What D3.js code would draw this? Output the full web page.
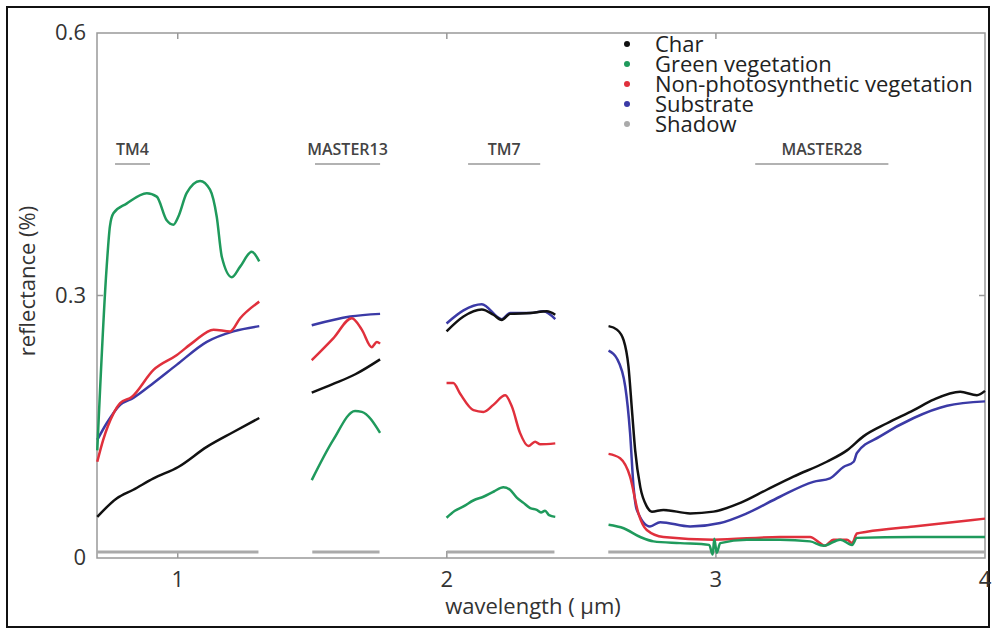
<!DOCTYPE html>
<html>
<head>
<meta charset="utf-8">
<script src="https://cdn.jsdelivr.net/npm/d3@7"></script>
<style>
  body { margin: 0; background: #fff; }
  text { font-family: "Open Sans", "Noto Sans", sans-serif; }
</style>
</head>
<body>
<svg id="chart" width="993" height="632"></svg>
<script>
// band windows (wavelength um) and the spectral bands marked above them
var segStart = [0.70, 1.50, 2.00, 2.60]
var segEnd = [1.30, 1.75, 2.40, 4.00]
var bandNames = ["TM4", "MASTER13", "TM7", "MASTER28"]
var bandFrom = [0.767, 1.510, 2.079, 3.146]
var bandTo = [0.897, 1.752, 2.347, 3.641]
var shadowValue = 0.007

var seriesNames = ["Char", "Green vegetation", "Non-photosynthetic vegetation", "Substrate", "Shadow"]
var seriesColors = ["#111111", "#1f9a5c", "#e0303c", "#3b3aa6", "#aaaaaa"]

var xTicks = [1, 2, 3, 4]
var yTicks = [0, 0.3, 0.6]
var yTickLabels = ["0", "0.3", "0.6"]

// char
var charTM4 = [[0.701,0.047],[0.773,0.068],[0.835,0.078],[0.910,0.091],[1.002,0.104],[1.108,0.127],[1.207,0.144],[1.303,0.160]]
var charM13 = [[1.498,0.189],[1.578,0.199],[1.660,0.210],[1.752,0.227]]
var charTM7 = [[1.999,0.259],[2.062,0.276],[2.130,0.284],[2.173,0.278],[2.204,0.272],[2.235,0.279],[2.310,0.280],[2.372,0.282],[2.403,0.278]]
var charM28 = [[2.601,0.265],[2.632,0.261],[2.657,0.249],[2.675,0.219],[2.688,0.169],[2.700,0.123],[2.719,0.081],[2.743,0.059],[2.762,0.053],[2.805,0.055],[2.904,0.051],[2.991,0.053],[3.091,0.063],[3.189,0.078],[3.288,0.093],[3.412,0.110],[3.487,0.123],[3.548,0.139],[3.636,0.154],[3.735,0.169],[3.809,0.181],[3.908,0.190],[3.970,0.186],[4.000,0.191]]

// green vegetation
var greenTM4 = [[0.701,0.123],[0.736,0.333],[0.748,0.379],[0.761,0.394],[0.810,0.405],[0.885,0.417],[0.922,0.413],[0.959,0.386],[0.984,0.381],[1.002,0.390],[1.033,0.417],[1.083,0.431],[1.120,0.421],[1.145,0.390],[1.164,0.344],[1.201,0.321],[1.232,0.333],[1.275,0.350],[1.303,0.339]]
var greenM13 = [[1.498,0.089],[1.578,0.135],[1.659,0.168],[1.684,0.167],[1.752,0.143]]
var greenTM7 = [[1.999,0.046],[2.030,0.054],[2.062,0.059],[2.100,0.066],[2.136,0.070],[2.175,0.076],[2.210,0.081],[2.235,0.078],[2.260,0.069],[2.285,0.063],[2.310,0.057],[2.334,0.055],[2.350,0.052],[2.365,0.054],[2.380,0.049],[2.403,0.047]]
var greenM28 = [[2.601,0.038],[2.657,0.034],[2.719,0.024],[2.768,0.019],[2.867,0.017],[2.975,0.015],[2.988,0.004],[2.994,0.022],[3.003,0.006],[3.016,0.017],[3.115,0.021],[3.238,0.021],[3.350,0.019],[3.400,0.014],[3.462,0.021],[3.506,0.015],[3.524,0.023],[3.735,0.024],[4.000,0.024]]

// non-photosynthetic vegetation
var npvTM4 = [[0.701,0.110],[0.723,0.135],[0.761,0.165],[0.786,0.177],[0.829,0.184],[0.910,0.215],[0.997,0.232],[1.059,0.247],[1.133,0.261],[1.195,0.259],[1.232,0.274],[1.303,0.293]]
var npvM13 = [[1.498,0.226],[1.578,0.251],[1.647,0.274],[1.684,0.261],[1.721,0.241],[1.740,0.247],[1.752,0.245]]
var npvTM7 = [[1.999,0.200],[2.024,0.200],[2.049,0.188],[2.099,0.169],[2.136,0.167],[2.173,0.175],[2.217,0.186],[2.242,0.173],[2.272,0.143],[2.303,0.128],[2.328,0.133],[2.347,0.130],[2.403,0.131]]
var npvM28 = [[2.601,0.119],[2.644,0.114],[2.681,0.093],[2.712,0.051],[2.743,0.032],[2.805,0.024],[2.991,0.021],[3.238,0.024],[3.350,0.024],[3.387,0.017],[3.405,0.014],[3.437,0.021],[3.487,0.021],[3.506,0.017],[3.524,0.028],[3.561,0.030],[3.735,0.036],[4.000,0.045]]

// substrate
var subTM4 = [[0.701,0.135],[0.736,0.154],[0.786,0.175],[0.835,0.183],[0.910,0.200],[0.997,0.221],[1.108,0.247],[1.207,0.259],[1.303,0.265]]
var subM13 = [[1.498,0.266],[1.641,0.276],[1.752,0.279]]
var subTM7 = [[1.999,0.268],[2.062,0.283],[2.130,0.290],[2.204,0.273],[2.235,0.280],[2.310,0.280],[2.359,0.282],[2.403,0.273]]
var subM28 = [[2.601,0.237],[2.632,0.228],[2.663,0.196],[2.681,0.143],[2.694,0.081],[2.706,0.055],[2.755,0.036],[2.793,0.041],[2.904,0.036],[3.016,0.040],[3.115,0.051],[3.238,0.070],[3.362,0.087],[3.424,0.091],[3.474,0.104],[3.512,0.110],[3.524,0.120],[3.610,0.139],[3.735,0.160],[3.859,0.174],[4.000,0.179]]

var seriesData = [
  [charTM4, charM13, charTM7, charM28],
  [greenTM4, greenM13, greenTM7, greenM28],
  [npvTM4, npvM13, npvTM7, npvM28],
  [subTM4, subM13, subTM7, subM28]
]

drawChart = function() {
  var svg = d3.select("#chart")
  var pL = 97, pR = 985, pT = 33, pB = 558

  var x = d3.scaleLinear().domain([0.7, 4]).range([pL, pR])
  var y = d3.scaleLinear().domain([0, 0.6]).range([pB, pT])

  // outer frame
  svg.append("rect")
    .attr("x", 7).attr("y", 7).attr("width", 982).attr("height", 620)
    .attr("fill", "none").attr("stroke", "#111").attr("stroke-width", 2)

  // plot box
  svg.append("rect")
    .attr("x", pL).attr("y", pT).attr("width", pR - pL).attr("height", pB - pT)
    .attr("fill", "none").attr("stroke", "#999").attr("stroke-width", 1.5)

  // x ticks, bottom and top, pointing inward
  xTicks.slice(0, 3).forEach(function(t) {
    svg.append("line").attr("x1", x(t)).attr("x2", x(t)).attr("y1", pB).attr("y2", pB - 7)
      .attr("stroke", "#999").attr("stroke-width", 1.5)
    svg.append("line").attr("x1", x(t)).attr("x2", x(t)).attr("y1", pT).attr("y2", pT + 6)
      .attr("stroke", "#999").attr("stroke-width", 1.5)
  })
  svg.append("line").attr("x1", pL).attr("x2", pL + 6).attr("y1", y(0.3)).attr("y2", y(0.3))
    .attr("stroke", "#999").attr("stroke-width", 1.5)
  svg.append("line").attr("x1", pR).attr("x2", pR - 6).attr("y1", y(0.3)).attr("y2", y(0.3))
    .attr("stroke", "#999").attr("stroke-width", 1.5)

  // tick labels
  svg.selectAll(".xt").data(xTicks).enter().append("text")
    .attr("x", function(d) { return x(d) }).attr("y", pB + 29)
    .attr("text-anchor", "middle").attr("fill", "#333").style("font-size", "22px")
    .text(function(d) { return d })
  svg.selectAll(".yt").data(yTicks).enter().append("text")
    .attr("x", 86).attr("y", function(d) { return y(d) + 7 })
    .attr("text-anchor", "end").attr("fill", "#333").style("font-size", "22px")
    .text(function(d, i) { return yTickLabels[i] })

  // axis titles
  svg.append("text").attr("x", 533).attr("y", 614).attr("text-anchor", "middle")
    .attr("fill", "#333").style("font-size", "22px").text("wavelength ( \u00b5m)")
  svg.append("text").attr("transform", "translate(35,281) rotate(-90)")
    .attr("text-anchor", "middle").attr("fill", "#333").style("font-size", "22px").text("reflectance (%)")

  // band labels with underline
  bandNames.forEach(function(b, i) {
    var cx = (x(bandFrom[i]) + x(bandTo[i])) / 2
    svg.append("text").attr("x", cx).attr("y", 155).attr("text-anchor", "middle")
      .attr("fill", "#444").style("font-size", "16px").style("font-weight", "600").text(b)
    svg.append("line").attr("x1", x(bandFrom[i])).attr("x2", x(bandTo[i])).attr("y1", 164).attr("y2", 164)
      .attr("stroke", "#999").attr("stroke-width", 1.5)
  })

  // shadow lines
  segStart.forEach(function(s, i) {
    svg.append("line").attr("x1", x(s)).attr("x2", x(segEnd[i]))
      .attr("y1", y(shadowValue)).attr("y2", y(shadowValue))
      .attr("stroke", seriesColors[4]).attr("stroke-width", 3)
  })

  var line = d3.line().x(function(d) { return x(d[0]) }).y(function(d) { return y(d[1]) }).curve(d3.curveMonotoneX)

  // draw substrate first, then npv, green, char
  var order = [3, 2, 1, 0]
  order.forEach(function(k) {
    seriesData[k].forEach(function(seg) {
      svg.append("path").datum(seg).attr("d", line)
        .attr("fill", "none").attr("stroke", seriesColors[k]).attr("stroke-width", 2.5)
        .attr("stroke-linejoin", "round")
    })
  })

  // legend
  seriesNames.forEach(function(n, i) {
    var ly = 44 + i * 20
    svg.append("circle").attr("cx", 627).attr("cy", ly).attr("r", 3).attr("fill", seriesColors[i])
    svg.append("text").attr("x", 655).attr("y", ly + 8).attr("fill", "#222")
      .style("font-size", "22px").text(n)
  })
}

drawChart()
</script>
</body>
</html>
